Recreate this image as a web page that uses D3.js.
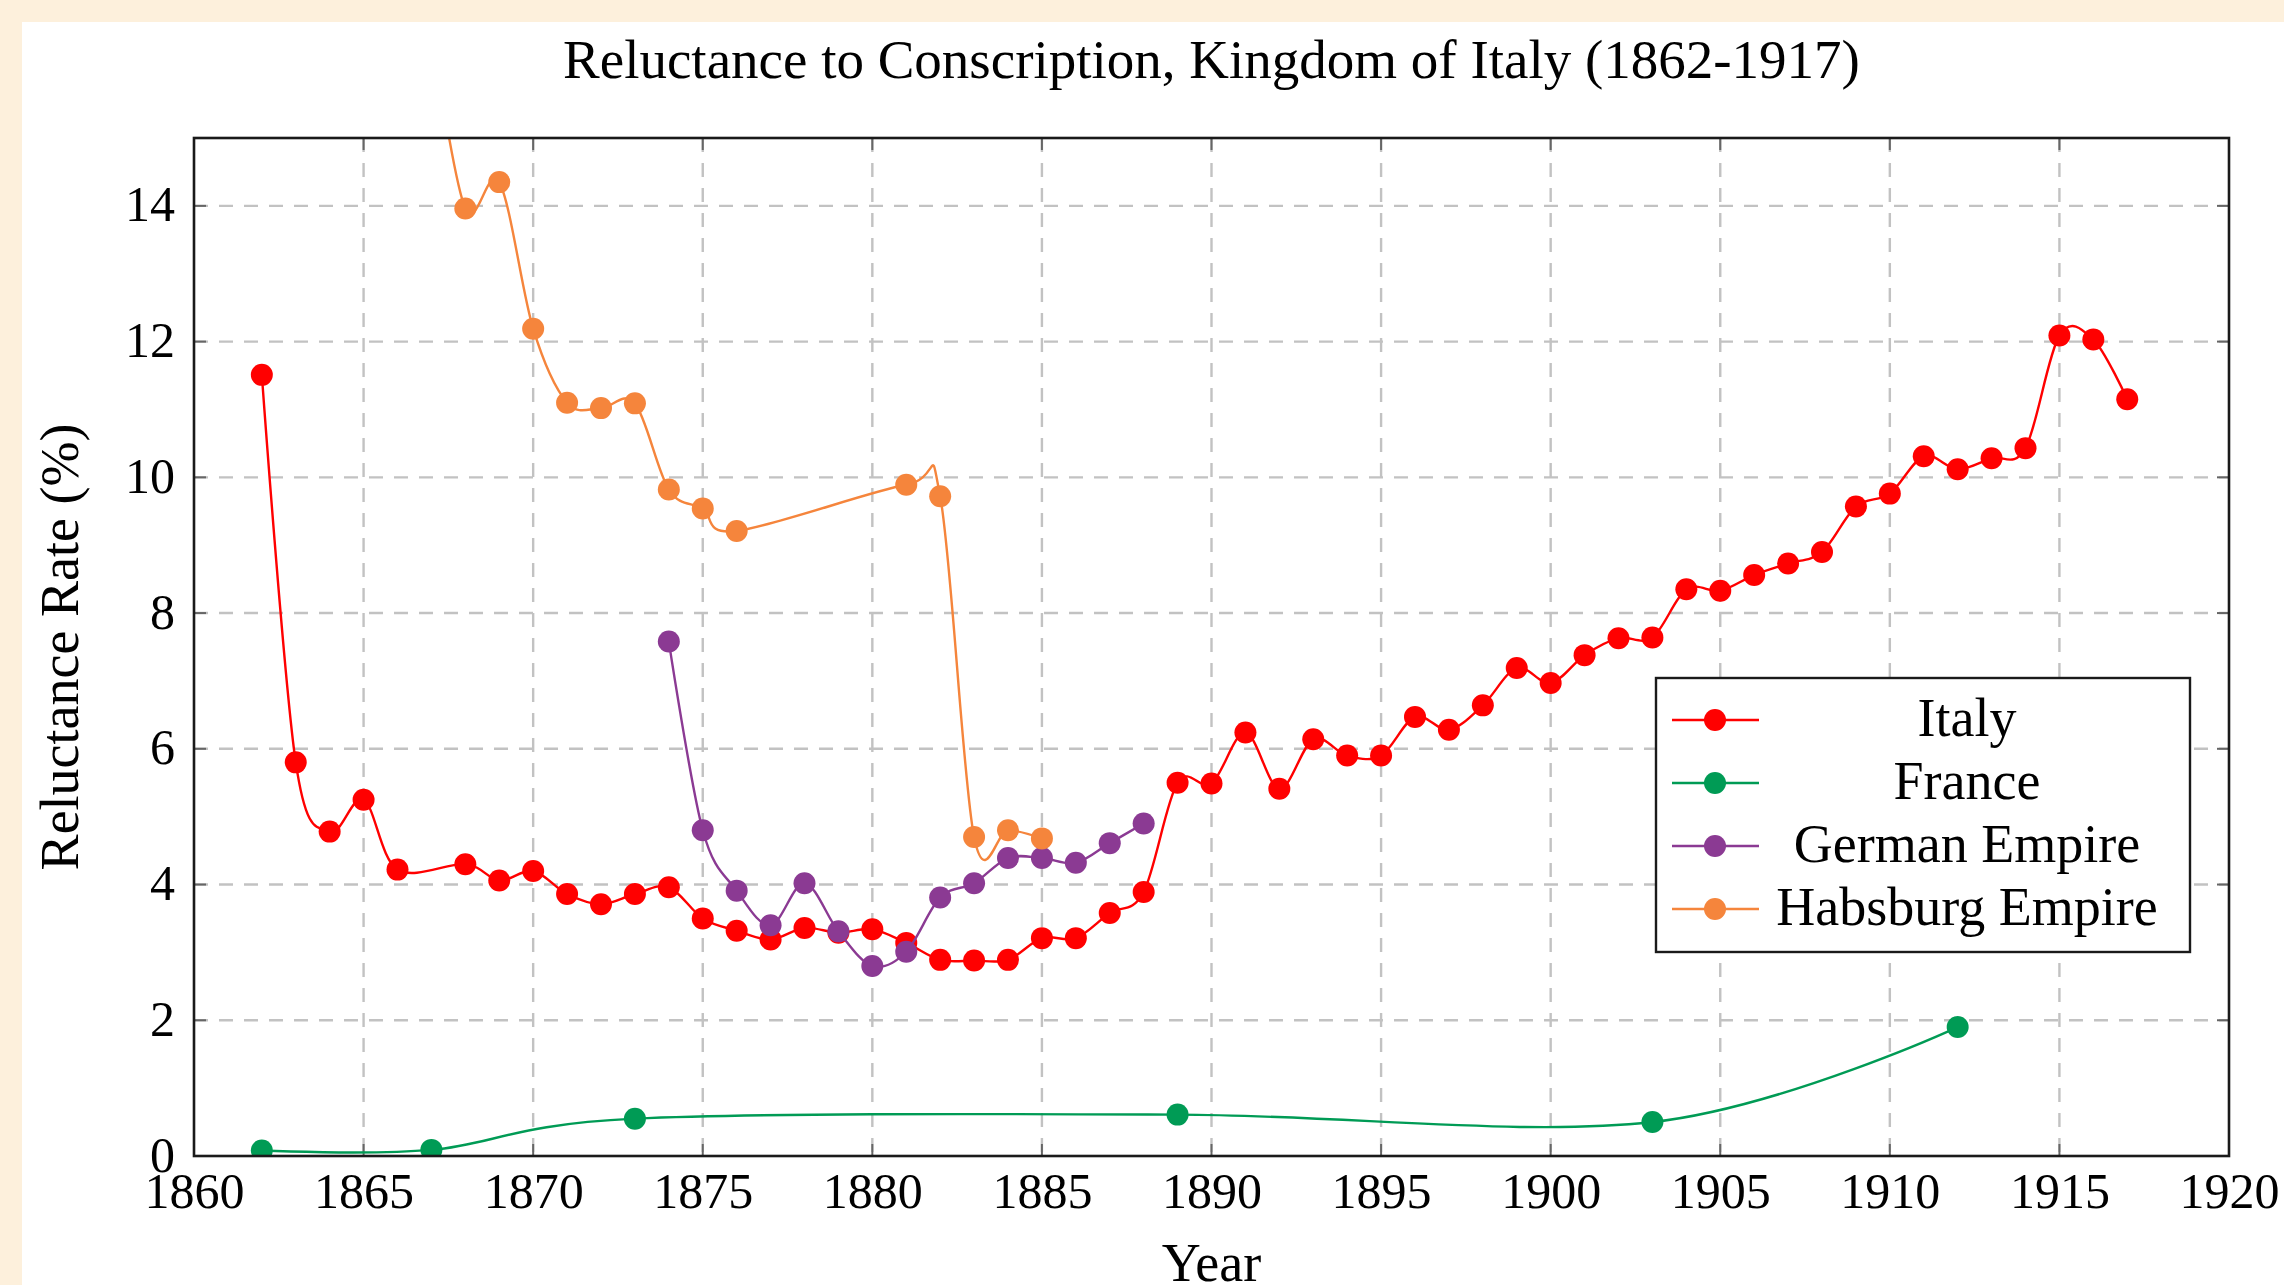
<!DOCTYPE html>
<html>
<head>
<meta charset="utf-8">
<script src="https://cdn.jsdelivr.net/npm/d3@7"></script>
<style>
  html, body { margin: 0; padding: 0; background: #fdf0dc; }
  svg { display: block; }
  text { font-family: "Liberation Serif", "DejaVu Serif", serif; fill: #000; }
</style>
</head>
<body>
<svg id="chart" width="2284" height="1285"></svg>
<script>
// ---------------- data ----------------
const italyYears = [1862,1863,1864,1865,1866,1868,1869,1870,1871,1872,1873,1874,1875,1876,1877,1878,1879,1880,1881,1882,1883,1884,1885,1886,1887,1888,1889,1890,1891,1892,1893,1894,1895,1896,1897,1898,1899,1900,1901,1902,1903,1904,1905,1906,1907,1908,1909,1910,1911,1912,1913,1914,1915,1916,1917];
const italyValues = [11.51,5.80,4.78,5.25,4.22,4.30,4.06,4.20,3.86,3.71,3.86,3.96,3.50,3.32,3.19,3.36,3.29,3.34,3.14,2.89,2.88,2.89,3.21,3.21,3.58,3.89,5.50,5.49,6.24,5.41,6.14,5.90,5.90,6.47,6.28,6.64,7.19,6.97,7.38,7.63,7.64,8.35,8.33,8.56,8.73,8.90,9.57,9.76,10.31,10.12,10.28,10.43,12.09,12.03,11.15];

const franceYears = [1862,1867,1873,1889,1903,1912];
const franceValues = [0.08,0.09,0.55,0.61,0.50,1.90];

const germanYears = [1874,1875,1876,1877,1878,1879,1880,1881,1882,1883,1884,1885,1886,1887,1888];
const germanValues = [7.58,4.80,3.91,3.40,4.02,3.31,2.80,3.01,3.81,4.02,4.39,4.39,4.32,4.61,4.90];

const habsburgYears = [1867,1868,1869,1870,1871,1872,1873,1874,1875,1876,1881,1882,1883,1884,1885];
const habsburgValues = [16.6,13.96,14.35,12.19,11.10,11.02,11.09,9.82,9.54,9.21,9.89,9.72,4.70,4.80,4.68];

const seriesNames = ["Italy","France","German Empire","Habsburg Empire"];
const seriesColors = ["#ff0000","#009b55","#8b3a93","#f5853c"];

const xTicks = [1860,1865,1870,1875,1880,1885,1890,1895,1900,1905,1910,1915,1920];
const yTicks = [0,2,4,6,8,10,12,14];

const titleText = "Reluctance to Conscription, Kingdom of Italy (1862-1917)";
const xLabel = "Year";
const yLabel = "Reluctance Rate (%)";

// ---------------- layout ----------------
const W = 2284, H = 1285;
const L = 194, R = 2229, T = 138, B = 1156;

const svg = d3.select("#chart");

// white panel on cream background
svg.append("rect").attr("x", 22).attr("y", 22).attr("width", W - 22).attr("height", H - 22).attr("fill", "#ffffff");

const x = d3.scaleLinear().domain([1860, 1920]).range([L, R]);
const y = d3.scaleLinear().domain([0, 15]).range([B, T]);

// grid
const grid = svg.append("g");
grid.selectAll("line.vg").data(xTicks.slice(1, -1)).enter().append("line")
  .attr("x1", d => x(d)).attr("x2", d => x(d)).attr("y1", T).attr("y2", B)
  .attr("stroke", "#c2c2c2").attr("stroke-width", 2.4).attr("stroke-dasharray", "14,11");
grid.selectAll("line.hg").data(yTicks.slice(1)).enter().append("line")
  .attr("x1", L).attr("x2", R).attr("y1", d => y(d)).attr("y2", d => y(d))
  .attr("stroke", "#c2c2c2").attr("stroke-width", 2.4).attr("stroke-dasharray", "14,11");

// inner ticks (all sides)
const tk = svg.append("g").attr("stroke", "#666").attr("stroke-width", 2);
xTicks.forEach(d => {
  tk.append("line").attr("x1", x(d)).attr("x2", x(d)).attr("y1", B).attr("y2", B - 12);
  tk.append("line").attr("x1", x(d)).attr("x2", x(d)).attr("y1", T).attr("y2", T + 12);
});
yTicks.forEach(d => {
  tk.append("line").attr("x1", L).attr("x2", L + 12).attr("y1", y(d)).attr("y2", y(d));
  tk.append("line").attr("x1", R).attr("x2", R - 12).attr("y1", y(d)).attr("y2", y(d));
});

// axes (labels only, using d3 axes)
const xAxis = svg.append("g").attr("transform", `translate(0,${B})`)
  .call(d3.axisBottom(x).tickValues(xTicks).tickFormat(d3.format("d")).tickSize(0).tickPadding(0));
xAxis.select(".domain").remove();
xAxis.selectAll("text").attr("y", 52).attr("dy", null).style("font-size", "50px")
  .style("font-family", '"Liberation Serif", serif');

const yAxis = svg.append("g").attr("transform", `translate(${L},0)`)
  .call(d3.axisLeft(y).tickValues(yTicks).tickFormat(d3.format("d")).tickSize(0).tickPadding(0));
yAxis.select(".domain").remove();
yAxis.selectAll("text").attr("x", -19).attr("dy", "15px").style("font-size", "50px")
  .style("font-family", '"Liberation Serif", serif');

// clip
svg.append("clipPath").attr("id", "plotclip").append("rect")
  .attr("x", L).attr("y", T).attr("width", R - L).attr("height", B - T);

const plot = svg.append("g").attr("clip-path", "url(#plotclip)");

const line = d3.line().x(d => x(d[0])).y(d => y(d[1])).curve(d3.curveCardinal.tension(0));

const allSeries = [
  [italyYears, italyValues],
  [franceYears, franceValues],
  [germanYears, germanValues],
  [habsburgYears, habsburgValues]
];

allSeries.forEach((s, i) => {
  const pts = s[0].map((yr, j) => [yr, s[1][j]]);
  const g = plot.append("g");
  g.append("path").datum(pts).attr("d", line)
    .attr("fill", "none").attr("stroke", seriesColors[i]).attr("stroke-width", 2.4);
  g.selectAll("circle").data(pts).enter().append("circle")
    .attr("cx", d => x(d[0])).attr("cy", d => y(d[1])).attr("r", 11)
    .attr("fill", seriesColors[i]);
});

// frame
svg.append("rect").attr("x", L).attr("y", T).attr("width", R - L).attr("height", B - T)
  .attr("fill", "none").attr("stroke", "#1a1a1a").attr("stroke-width", 2.6);

// title & axis labels
svg.append("text").attr("x", (L + R) / 2).attr("y", 78).attr("text-anchor", "middle")
  .style("font-size", "55px").text(titleText);
svg.append("text").attr("x", (L + R) / 2).attr("y", 1281).attr("text-anchor", "middle")
  .style("font-size", "54px").text(xLabel);
svg.append("text").attr("transform", `translate(78,${(T + B) / 2}) rotate(-90)`).attr("text-anchor", "middle")
  .style("font-size", "54px").text(yLabel);

// legend
const lg = svg.append("g");
lg.append("rect").attr("x", 1656).attr("y", 678).attr("width", 534).attr("height", 274)
  .attr("fill", "#ffffff").attr("stroke", "#1a1a1a").attr("stroke-width", 2.4);
seriesNames.forEach((n, i) => {
  const cy = 720 + i * 63;
  lg.append("line").attr("x1", 1672).attr("x2", 1759).attr("y1", cy).attr("y2", cy)
    .attr("stroke", seriesColors[i]).attr("stroke-width", 2.4);
  lg.append("circle").attr("cx", 1715).attr("cy", cy).attr("r", 11).attr("fill", seriesColors[i]);
  lg.append("text").attr("x", 1967).attr("y", cy + 16).attr("text-anchor", "middle")
    .style("font-size", "54px").text(n);
});
</script>
</body>
</html>
